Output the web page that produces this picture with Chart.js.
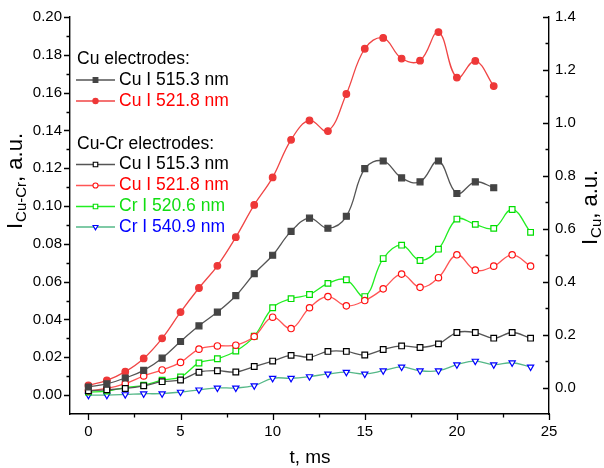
<!DOCTYPE html>
<html>
<head>
<meta charset="utf-8">
<script src="https://cdn.jsdelivr.net/npm/chart.js@4.4.0/dist/chart.umd.min.js"></script>
<style>
  html, body { margin: 0; padding: 0; background: #fff; }
  #wrap { width: 604px; height: 468px; }
</style>
</head>
<body>
<div id="wrap"><canvas id="spectraChart" width="604" height="468"></canvas></div>
<script>
// time, ms
const tCuCr = [0, 1, 2, 3, 4, 5, 6, 7, 8, 9, 10, 11, 12, 13, 14, 15, 16, 17, 18, 19, 20, 21, 22, 23, 24];
const tCu = [0, 1, 2, 3, 4, 5, 6, 7, 8, 9, 10, 11, 12, 13, 14, 15, 16, 17, 18, 19, 20, 21, 22];

// Cu electrodes (right axis, I_Cu)
const cuI5153 = [0.002, 0.014, 0.036, 0.065, 0.111, 0.174, 0.233, 0.285, 0.347, 0.430, 0.500, 0.590, 0.640, 0.602, 0.647, 0.827, 0.856, 0.792, 0.777, 0.856, 0.733, 0.777, 0.755];
const cuI5218 = [0.008, 0.027, 0.060, 0.110, 0.186, 0.285, 0.376, 0.460, 0.568, 0.690, 0.794, 0.936, 1.009, 0.969, 1.109, 1.280, 1.321, 1.243, 1.235, 1.343, 1.171, 1.234, 1.139];

// Cu-Cr electrodes (left axis, I_Cu-Cr)
const cuCrI5153 = [0.0023, 0.0028, 0.0035, 0.0049, 0.0071, 0.0080, 0.0121, 0.0129, 0.0122, 0.0151, 0.0180, 0.0210, 0.0201, 0.0231, 0.0231, 0.0212, 0.0241, 0.0260, 0.0252, 0.0271, 0.0331, 0.0331, 0.0301, 0.0331, 0.0301];
const cuCrI5218 = [0.0023, 0.0035, 0.0061, 0.0101, 0.0133, 0.0173, 0.0243, 0.0260, 0.0264, 0.0310, 0.0412, 0.0352, 0.0462, 0.0521, 0.0472, 0.0500, 0.0562, 0.0640, 0.0570, 0.0621, 0.0742, 0.0661, 0.0682, 0.0742, 0.0682];
const crI5206 = [0.0016, 0.0021, 0.0040, 0.0052, 0.0079, 0.0096, 0.0170, 0.0192, 0.0233, 0.0311, 0.0462, 0.0510, 0.0532, 0.0591, 0.0610, 0.0521, 0.0722, 0.0793, 0.0712, 0.0772, 0.0931, 0.0903, 0.0882, 0.0982, 0.0861];
const crI5409 = [0.0000, 0.0000, 0.0003, 0.0007, 0.0008, 0.0016, 0.0028, 0.0038, 0.0038, 0.0050, 0.0089, 0.0089, 0.0098, 0.0112, 0.0121, 0.0112, 0.0129, 0.0149, 0.0129, 0.0129, 0.0161, 0.0180, 0.0161, 0.0171, 0.0149];

// ticks
const xTicks = [0, 5, 10, 15, 20, 25];
const leftTicks = [0, 0.02, 0.04, 0.06, 0.08, 0.10, 0.12, 0.14, 0.16, 0.18, 0.20];
const rightTicks = [0, 0.2, 0.4, 0.6, 0.8, 1.0, 1.2, 1.4];

const legendHeads = ['Cu electrodes:', 'Cu-Cr electrodes:'];

const FONT = "'Liberation Sans', Arial, sans-serif";

function pts(xs, ys) {
    return xs.map((x, i) => ({ x: x, y: ys[i] }));
}

const datasets = [
    {
        label: 'Cu I 515.3 nm', data: pts(tCu, cuI5153), yAxisID: 'y1',
        borderColor: '#555555', pointBackgroundColor: '#444444', pointBorderColor: '#444444',
        pointStyle: 'rect', pointRadius: 4.2, textColor: '#000000'
    },
    {
        label: 'Cu I 521.8 nm', data: pts(tCu, cuI5218), yAxisID: 'y1',
        borderColor: '#f04545', pointBackgroundColor: '#ee3838', pointBorderColor: '#ee3838',
        pointStyle: 'circle', pointRadius: 3.3, textColor: '#ff0000'
    },
    {
        label: 'Cu I 515.3 nm', data: pts(tCuCr, cuCrI5153), yAxisID: 'y',
        borderColor: '#555555', pointBackgroundColor: '#ffffff', pointBorderColor: '#000000',
        pointStyle: 'rect', pointRadius: 4, textColor: '#000000'
    },
    {
        label: 'Cu I 521.8 nm', data: pts(tCuCr, cuCrI5218), yAxisID: 'y',
        borderColor: '#ff5555', pointBackgroundColor: '#ffffff', pointBorderColor: '#ff1010',
        pointStyle: 'circle', pointRadius: 3.2, textColor: '#ff0000'
    },
    {
        label: 'Cr I 520.6 nm', data: pts(tCuCr, crI5206), yAxisID: 'y',
        borderColor: '#22ee22', pointBackgroundColor: '#ffffff', pointBorderColor: '#00dd00',
        pointStyle: 'rect', pointRadius: 4, textColor: '#11dd11'
    },
    {
        label: 'Cr I 540.9 nm', data: pts(tCuCr, crI5409), yAxisID: 'y',
        borderColor: '#55b888', pointBackgroundColor: '#ffffff', pointBorderColor: '#0000ff',
        pointStyle: 'triangle', pointRotation: 180, pointRadius: 3.6, textColor: '#0000ff'
    }
];

datasets.forEach(ds => {
    ds.borderWidth = 1.3;
    ds.pointBorderWidth = 1.2;
    ds.tension = 0.4;
    ds.fill = false;
});

function drawTitle(ctx, x, y, main, sub, rest) {
    ctx.save();
    ctx.translate(x, y);
    ctx.rotate(-Math.PI / 2);
    ctx.fillStyle = '#000';
    ctx.textAlign = 'left';
    ctx.textBaseline = 'alphabetic';
    ctx.font = '22px ' + FONT;
    ctx.fillText(main, 0, 0);
    let w = ctx.measureText(main).width + 1;
    ctx.font = '15px ' + FONT;
    ctx.fillText(sub, w, 4);
    w += ctx.measureText(sub).width;
    ctx.font = '22px ' + FONT;
    ctx.fillText(rest, w, 0);
    ctx.restore();
}

const decor = {
    id: 'decor',
    afterDraw(chart) {
        const ctx = chart.ctx;
        const xs = chart.scales.x, yl = chart.scales.y, yr = chart.scales.y1;
        const a = chart.chartArea;
        ctx.save();
        ctx.strokeStyle = '#000';
        ctx.lineWidth = 1.3;
        ctx.beginPath();
        // x ticks, outward
        for (let v = 0; v <= 25; v += 2.5) {
            const px = Math.round(xs.getPixelForValue(v)) + 0.5;
            const len = xTicks.includes(v) ? 6 : 3.5;
            ctx.moveTo(px, a.bottom);
            ctx.lineTo(px, a.bottom + len);
        }
        // left ticks, outward
        for (let i = 0; i <= 20; i++) {
            const v = i / 100;
            const py = Math.round(yl.getPixelForValue(v)) + 0.5;
            const len = i % 2 === 0 ? 6 : 3.5;
            ctx.moveTo(a.left, py);
            ctx.lineTo(a.left - len, py);
        }
        // right ticks, inward
        for (let i = 0; i <= 14; i++) {
            const v = i / 10;
            const py = Math.round(yr.getPixelForValue(v)) + 0.5;
            const len = i % 2 === 0 ? 6 : 3.5;
            ctx.moveTo(a.right, py);
            ctx.lineTo(a.right - len, py);
        }
        ctx.stroke();
        ctx.restore();

        // axis titles
        drawTitle(ctx, 22, 229, 'I', 'Cu-Cr', ', a.u.');
        drawTitle(ctx, 597, 245, 'I', 'Cu', ', a.u.');
        ctx.save();
        ctx.fillStyle = '#000';
        ctx.font = '19px ' + FONT;
        ctx.textAlign = 'center';
        ctx.textBaseline = 'alphabetic';
        ctx.fillText('t, ms', 310, 463);
        ctx.restore();

        // legend
        ctx.save();
        ctx.font = '17.5px ' + FONT;
        ctx.textBaseline = 'middle';
        ctx.textAlign = 'left';
        ctx.fillStyle = '#000';
        ctx.fillText(legendHeads[0], 77, 59);
        ctx.fillText(legendHeads[1], 77, 144);
        const rows = [80, 101, 164.5, 185.5, 206.5, 227];
        chart.data.datasets.forEach((ds, i) => {
            const y = rows[i];
            ctx.strokeStyle = ds.borderColor;
            ctx.lineWidth = 1.3;
            ctx.beginPath();
            ctx.moveTo(76, y);
            ctx.lineTo(115, y);
            ctx.stroke();
            ctx.fillStyle = ds.pointBackgroundColor;
            ctx.strokeStyle = ds.pointBorderColor;
            ctx.lineWidth = 1.1;
            Chart.helpers.drawPoint(ctx, {
                pointStyle: ds.pointStyle,
                rotation: ds.pointRotation || 0,
                radius: ds.pointRadius * 0.8,
                borderWidth: 1.1
            }, 95.5, y);
            ctx.fillStyle = ds.textColor;
            ctx.fillText(ds.label, 119, y);
        });
        ctx.restore();
    }
};

const tickFont = { family: FONT, size: 15 };

const ctxMain = document.getElementById('spectraChart').getContext('2d');
const spectraChart = new Chart(ctxMain, {
    type: 'line',
    data: { datasets: datasets },
    options: {
        responsive: false,
        animation: false,
        devicePixelRatio: 1,
        layout: { padding: { top: 14, left: 0, right: 0, bottom: 0 } },
        plugins: {
            legend: { display: false },
            tooltip: { enabled: false }
        },
        scales: {
            x: {
                type: 'linear',
                min: -1,
                max: 25,
                grid: { display: false, drawTicks: false },
                border: { display: true, color: '#000', width: 1.4 },
                ticks: {
                    font: tickFont, color: '#000', padding: 9, autoSkip: false, maxRotation: 0,
                    callback: v => String(v)
                },
                afterBuildTicks: s => { s.ticks = xTicks.map(v => ({ value: v })); },
                afterFit: s => { s.height = 54; }
            },
            y: {
                type: 'linear',
                position: 'left',
                min: -0.01,
                max: 0.20,
                grid: { display: false, drawTicks: false },
                border: { display: true, color: '#000', width: 1.4 },
                ticks: {
                    font: tickFont, color: '#000', padding: 8, autoSkip: false,
                    callback: v => v.toFixed(2)
                },
                afterBuildTicks: s => { s.ticks = leftTicks.map(v => ({ value: v })); },
                afterFit: s => { s.width = 70; }
            },
            y1: {
                type: 'linear',
                position: 'right',
                min: -0.1,
                max: 1.4,
                grid: { display: false, drawTicks: false },
                border: { display: true, color: '#000', width: 1.4 },
                ticks: {
                    font: tickFont, color: '#000', padding: 6, autoSkip: false,
                    callback: v => v.toFixed(1)
                },
                afterBuildTicks: s => { s.ticks = rightTicks.map(v => ({ value: v })); },
                afterFit: s => { s.width = 55; }
            }
        }
    },
    plugins: [decor]
});
</script>
</body>
</html>
